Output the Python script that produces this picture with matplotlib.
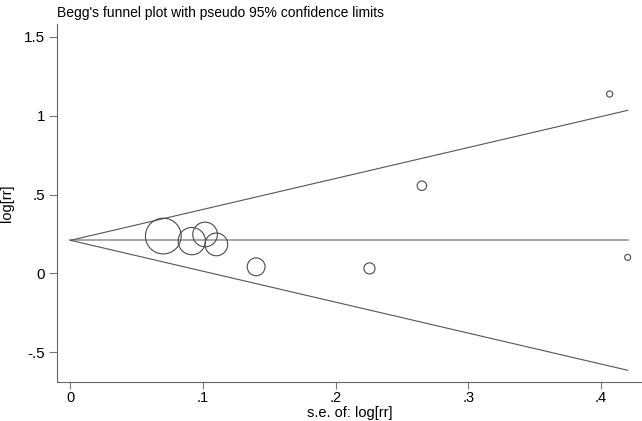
#!/usr/bin/env python3
"""Begg's funnel plot with pseudo 95% confidence limits."""

import numpy as np
import matplotlib
matplotlib.use("Agg")
import matplotlib.pyplot as plt

plt.rcParams["font.family"] = ["Liberation Sans", "DejaVu Sans"]

# Estudos: erro padrão e log[rr]
se = [0.070, 0.0915, 0.1015, 0.110, 0.140, 0.2255, 0.265, 0.4066, 0.4202]
logrr = [0.237, 0.205, 0.247, 0.184, 0.042, 0.032, 0.556, 1.137, 0.102]
pooled = 0.21

xticks = [0, 0.1, 0.2, 0.3, 0.4]
xticklabels = ["0", ".1", ".2", ".3", ".4"]
yticks = [-0.5, 0, 0.5, 1, 1.5]
yticklabels = ["-.5", "0", ".5", "1", "1.5"]

DPI = 100
fig = plt.figure(figsize=(6.42, 4.21), dpi=DPI)
ax = fig.add_axes([0.0883, 0.0926, 0.9117, 0.8497])

se = np.array(se)
logrr = np.array(logrr)

# Limites pseudo 95%
smax = se.max()
sx = np.array([0, smax])
ax.plot(sx, pooled + 1.96 * sx, color="#555555", lw=0.8, zorder=2)
ax.plot(sx, pooled - 1.96 * sx, color="#555555", lw=0.8, zorder=2)
ax.plot(sx, [pooled, pooled], color="#a8a8a8", lw=1.4, zorder=1)

# Tamanho dos círculos proporcional a 1/se^2
diam_pt = 2 * 1.25 / se * 72 / DPI
ax.scatter(se, logrr, s=diam_pt ** 2, facecolors="none",
           edgecolors="#4a4a4a", linewidths=0.8, zorder=3)

ax.set_xlim(-0.0104, 0.431)
ax.set_ylim(-0.688, 1.579)
ax.set_xticks(xticks)
ax.set_xticklabels(xticklabels)
ax.set_yticks(yticks)
ax.set_yticklabels(yticklabels)
ax.tick_params(direction="out", length=5.5, width=0.8, color="#777777",
               labelsize=11, pad=3)
ax.tick_params(axis="x", length=5, pad=1.5, labelsize=10.5)

for side in ["top", "right"]:
    ax.spines[side].set_visible(False)
for side in ["left", "bottom"]:
    ax.spines[side].set_color("#666666")
    ax.spines[side].set_linewidth(0.8)

ax.set_xlabel("s.e. of: log[rr]", fontsize=10.5, labelpad=0.5)
ax.set_ylabel("log[rr]", fontsize=10.5, labelpad=7)
fig.text(0.089, 0.985, "Begg's funnel plot with pseudo 95% confidence limits",
         fontsize=10, ha="left", va="top")

fig.savefig("out.png", dpi=DPI)
plt.close(fig)
